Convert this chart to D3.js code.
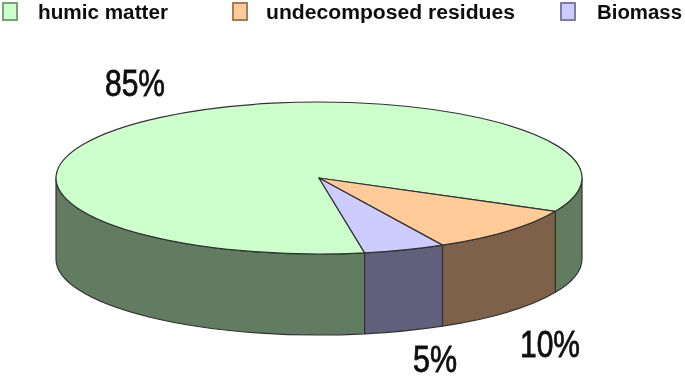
<!DOCTYPE html>
<html>
<head>
<meta charset="utf-8">
<script src="https://cdn.jsdelivr.net/npm/d3@7"></script>
<style>
  html, body { margin: 0; padding: 0; background: #fff; }
  svg { display: block; }
  text { font-family: "Liberation Sans", Arial, sans-serif; fill: #111; }
</style>
</head>
<body>
<svg id="chart" width="685" height="380"></svg>
<script>
const categories = ["humic matter", "undecomposed residues", "Biomass"];
const shares = [85, 10, 5];
const topColors = ["#ccffcc", "#ffcc99", "#ccccff"];
const sideColors = ["#627c62", "#7d6248", "#60607c"];

const width = 685, height = 380;
const cx = 319, cy = 178, rx = 263, ry = 76, depth = 81;

const svg = d3.select("#chart");

// slight blur, the reference is a soft upscaled image
svg.append("defs").append("filter")
    .attr("id", "soft")
    .append("feGaussianBlur")
    .attr("stdDeviation", 0.6);

const root = svg.append("g").attr("filter", "url(#soft)");

const topColor = d3.scaleOrdinal().domain(categories).range(topColors);
const sideColor = d3.scaleOrdinal().domain(categories).range(sideColors);

// d3 pie angles: 0 is up, clockwise
const startAngle = 170 * Math.PI / 180;
const pie = d3.pie()
    .value((d, i) => shares[i])
    .sort(null)
    .startAngle(startAngle)
    .endAngle(startAngle + 2 * Math.PI);
const slices = pie(categories);

const px = a => cx + rx * Math.sin(a);
const py = a => cy - ry * Math.cos(a);

// outer wall of one slice between two angles
function wallPath(a0, a1) {
    const x0 = px(a0), y0 = py(a0), x1 = px(a1), y1 = py(a1);
    return `M${x0},${y0}A${rx},${ry} 0 0 1 ${x1},${y1}` +
        `L${x1},${y1 + depth}A${rx},${ry} 0 0 0 ${x0},${y0 + depth}Z`;
}

// only the front half of the disc shows a wall
const frontRanges = [[Math.PI / 2, 3 * Math.PI / 2], [5 * Math.PI / 2, 7 * Math.PI / 2]];

slices.forEach(s => {
    frontRanges.forEach(([lo, hi]) => {
        const a0 = Math.max(s.startAngle, lo);
        const a1 = Math.min(s.endAngle, hi);
        if (a1 <= a0) return;
        root.append("path")
            .attr("d", wallPath(a0, a1))
            .attr("fill", sideColor(s.data))
            .attr("stroke", "#333")
            .attr("stroke-width", 1.2)
            .attr("stroke-linejoin", "round");
    });
});

// top face, circle arc squashed into the ellipse
const arc = d3.arc().innerRadius(0).outerRadius(rx);
root.append("g")
    .attr("transform", `translate(${cx},${cy}) scale(1,${ry / rx})`)
    .selectAll("path")
    .data(slices)
    .join("path")
    .attr("d", arc)
    .attr("fill", d => topColor(d.data))
    .attr("stroke", "#333")
    .attr("stroke-width", 1.2)
    .attr("vector-effect", "non-scaling-stroke")
    .attr("stroke-linejoin", "round");

// legend
const legendX = [3, 233, 561];
const legendTextX = [38, 266, 597];
const legendTextW = [130, 249, 85];

categories.forEach((c, i) => {
    root.append("rect")
        .attr("x", legendX[i])
        .attr("y", 3)
        .attr("width", 14)
        .attr("height", 17)
        .attr("fill", topColor(c))
        .attr("stroke", d3.color(sideColor(c)).brighter(0.7))
        .attr("stroke-width", 2);
    root.append("text")
        .attr("x", legendTextX[i])
        .attr("y", 19)
        .attr("font-size", 20)
        .attr("font-weight", "bold")
        .attr("textLength", legendTextW[i])
        .attr("lengthAdjust", "spacingAndGlyphs")
        .text(c);
});

// percent labels, narrow tall type
const labelX = [105, 520, 413];
const labelY = [96, 357, 372];
const labelW = [60, 60, 44];

shares.forEach((v, i) => {
    root.append("text")
        .attr("x", labelX[i])
        .attr("y", labelY[i])
        .attr("font-size", 36)
        .attr("stroke", "#111")
        .attr("stroke-width", 0.8)
        .attr("textLength", labelW[i])
        .attr("lengthAdjust", "spacingAndGlyphs")
        .text(`${v}%`);
});
</script>
</body>
</html>
